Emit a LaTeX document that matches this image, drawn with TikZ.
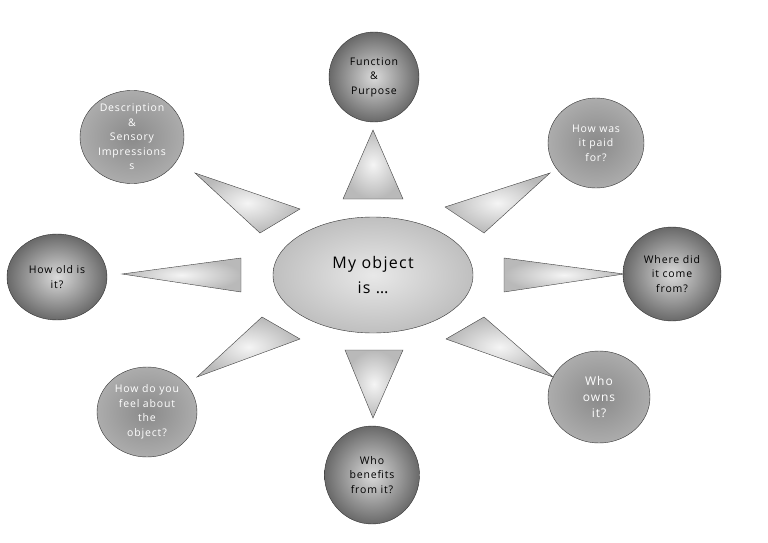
\documentclass[tikz,border=0pt]{standalone}
\usepackage{fontspec}
\setmainfont[LetterSpace=8]{Open Sans}
\usetikzlibrary{shapes.geometric}
\definecolor{ringdk}{RGB}{105,105,105}
\definecolor{coredk}{RGB}{218,218,218}
\definecolor{ringlt}{RGB}{172,172,172}
\definecolor{corelt}{RGB}{138,138,138}

\begin{document}
\begin{tikzpicture}[x=1pt,y=-1pt]
	\tikzstyle{dk}=[ellipse,draw=black!80,inner sep=0pt,align=center,inner color=coredk,outer color=ringdk,text=black,font=\fontsize{10.5}{14.5}\selectfont]
	\tikzstyle{lt}=[dk,inner color=corelt,outer color=ringlt,text=white]
	\tikzstyle{tri}=[draw=black!75,inner color=gray!8,outer color=gray!55]
	\useasboundingbox (0,0) rectangle (768,543);
				% centre
				\node [ellipse,draw=black!80,inner color=gray!18,outer color=gray!50,minimum width=200pt,minimum height=116pt,align=center,font=\fontsize{16}{25}\selectfont] (obj) at (373,275) {My object\\is \dots};
				% questions
				\node [dk,minimum width=90pt,minimum height=90pt] (fun) at (374,77) {Function\\\&\\Purpose};
				\node [lt,minimum width=104pt,minimum height=86pt] (desc) at (132,137) {Description\\\&\\Sensory\\Impressions\\s};
				\node [lt,minimum width=96pt,minimum height=90pt] (paid) at (596,143) {How was\\it paid\\for?};
				\node [dk,minimum width=98pt,minimum height=94pt] (where) at (672,274) {Where did\\it come\\from?};
				\node [lt,minimum width=102pt,minimum height=92pt,font=\fontsize{12}{16}\selectfont] (owns) at (599,397) {Who\\owns\\it?};
				\node [dk,minimum width=95pt,minimum height=98pt] (bene) at (372,475) {Who\\benefits\\from it?};
				\node [lt,minimum width=100pt,minimum height=90pt] (feel) at (147,412) {How do you\\feel about\\the\\object?};
				\node [dk,minimum width=100pt,minimum height=86pt] (old) at (57,277) {How old is\\it?};
				% pointers
				\draw [tri] (373,130) -- (343,199) -- (403,199) -- cycle;
				\draw [tri] (195,173) -- (300,209) -- (260,233) -- cycle;
				\draw [tri] (550,173) -- (445,207) -- (484,233) -- cycle;
				\draw [tri] (122,274) -- (241,258) -- (241,292) -- cycle;
				\draw [tri] (624,274) -- (504,258) -- (504,292) -- cycle;
				\draw [tri] (197,377) -- (262,317) -- (300,339) -- cycle;
				\draw [tri] (553,377) -- (484,317) -- (446,339) -- cycle;
				\draw [tri] (373,418) -- (345,350) -- (403,350) -- cycle;
	\end{tikzpicture}
\end{document}
